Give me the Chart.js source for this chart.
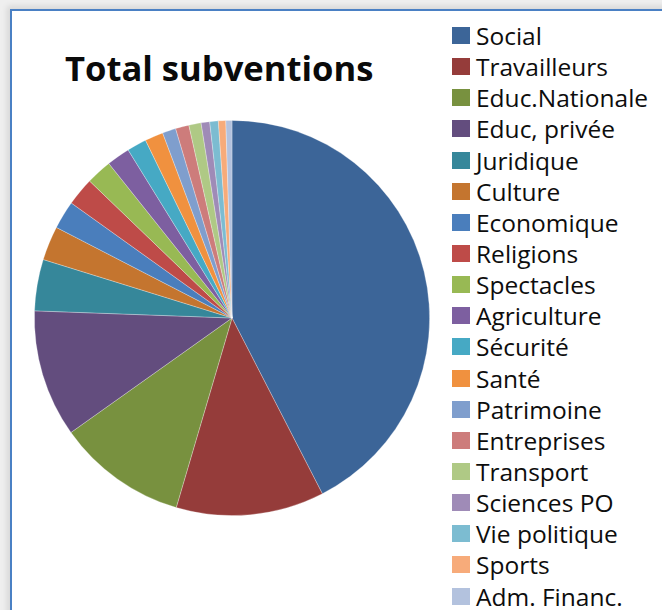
<!DOCTYPE html>
<html>
<head>
<meta charset="utf-8">
<title>Total subventions</title>
<script src="https://cdn.jsdelivr.net/npm/chart.js"></script>
<style>
    html, body {
        margin: 0;
        padding: 0;
        width: 662px;
        height: 610px;
        overflow: hidden;
        background: #efefef;
    }
    .frame {
        position: absolute;
        left: 10px;
        top: 9px;
        width: 700px;
        height: 660px;
        background: #ffffff;
        border-left: 2px solid #4a80c4;
        border-top: 2px solid #4a80c4;
        box-shadow: -3px -3px 6px rgba(0, 0, 0, 0.10);
    }
    #chartTitle {
        position: absolute;
        left: 65px;
        top: 51px;
        font-family: "Open Sans", sans-serif;
        font-weight: bold;
        font-size: 34.6px;
        line-height: 34px;
        color: #0a0a0a;
        white-space: nowrap;
    }
    #pieWrap {
        position: absolute;
        left: 32px;
        top: 118px;
        width: 400px;
        height: 400px;
    }
    #legendBox {
        position: absolute;
        left: 452px;
        top: 20px;
        margin: 0;
        padding: 0;
        list-style: none;
    }
    #legendBox li {
        display: flex;
        align-items: center;
        height: 31.15px;
        font-family: "Open Sans", sans-serif;
        font-size: 24.5px;
        line-height: 31px;
        color: #0d0d0d;
        white-space: nowrap;
    }
    #legendBox .swatch {
        display: inline-block;
        width: 18px;
        height: 17px;
        margin-right: 6px;
        flex: none;
    }
</style>
</head>
<body>
<div class="frame"></div>
<div id="chartTitle">Total subventions</div>
<div id="pieWrap"><canvas id="pieChart" width="400" height="400"></canvas></div>
<ul id="legendBox"></ul>

<script>
// categories and their share of the total (percent)
const categories = [
    "Social", "Travailleurs", "Educ.Nationale", "Educ, privée", "Juridique",
    "Culture", "Economique", "Religions", "Spectacles", "Agriculture",
    "Sécurité", "Santé", "Patrimoine", "Entreprises", "Transport",
    "Sciences PO", "Vie politique", "Sports", "Adm. Financ."
];
const shares = [
    42.4, 12.1, 10.6, 10.4, 4.2,
    2.8, 2.3, 2.3, 2.1, 1.9,
    1.6, 1.5, 1.1, 1.1, 1.0,
    0.7, 0.7, 0.6, 0.5
];
const sliceColors = [
    "#3c6598", "#953c3a", "#78913f", "#634d7e", "#36879a",
    "#c4752f", "#4a7ebc", "#be4b48", "#98b954", "#7d5fa0",
    "#46a9c4", "#f0913f", "#7f9ecd", "#cd7c7b", "#afc985",
    "#9f8bb7", "#7cbcd1", "#f7ab7a", "#b3c2de"
];

// html legend, built from the chart's own legend items
const htmlLegend = {
    id: 'htmlLegend',
    afterUpdate(chart) {
        const list = document.getElementById("legendBox");
        list.innerHTML = "";
        const items = chart.options.plugins.legend.labels.generateLabels(chart);
        items.forEach(item => {
            const li = document.createElement("li");
            const box = document.createElement("span");
            box.className = "swatch";
            box.style.background = item.fillStyle;
            li.appendChild(box);
            li.appendChild(document.createTextNode(item.text));
            list.appendChild(li);
        });
    }
};

function createPie(canvasId) {
    const ctx = document.getElementById(canvasId).getContext('2d');
    return new Chart(ctx, {
        type: 'pie',
        data: {
            labels: categories,
            datasets: [{
                data: shares,
                backgroundColor: sliceColors,
                borderColor: 'rgba(255, 255, 255, 0.35)',
                borderWidth: 0.8
            }]
        },
        options: {
            responsive: false,
            animation: false,
            rotation: 0,
            layout: { padding: 2 },
            plugins: {
                legend: { display: false },
                title: { display: false },
                tooltip: { enabled: false }
            }
        },
        plugins: [htmlLegend]
    });
}

createPie('pieChart');
</script>
</body>
</html>
